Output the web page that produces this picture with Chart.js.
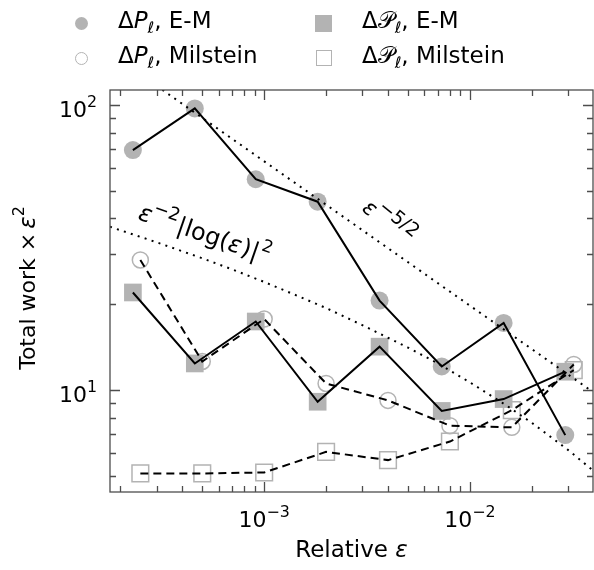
<!DOCTYPE html>
<html>
<head>
<meta charset="utf-8">
<script src="https://cdn.jsdelivr.net/npm/chart.js@4.4.1/dist/chart.umd.min.js"></script>
<style>
  html, body { margin: 0; padding: 0; background: #fff; overflow: hidden; }
  #wrap { position: relative; width: 594px; height: 570px; }
  #chart { position: absolute; left: 0; top: 0; }
  .leg { position: absolute; font-family: "DejaVu Sans", sans-serif; font-size: 23px; line-height: 23px; color: #000; white-space: nowrap; }
  .leg i { font-style: italic; }
  .leg sub { font-size: 16px; font-style: italic; vertical-align: -5px; line-height: 0; }
  .mk { position: absolute; box-sizing: border-box; }
</style>
</head>
<body>
<div id="wrap">
  <canvas id="chart" width="594" height="570"></canvas>
  <div class="mk" style="left:75px;top:17px;width:13px;height:13px;border-radius:50%;background:#b3b3b3"></div>
  <div class="mk" style="left:75px;top:52px;width:13px;height:13px;border-radius:50%;border:1.5px solid #b3b3b3"></div>
  <div class="mk" style="left:315px;top:15px;width:17px;height:17px;background:#b3b3b3"></div>
  <div class="mk" style="left:316px;top:50px;width:16px;height:16px;border:1.5px solid #b3b3b3"></div>
  <div class="leg" style="left:118px;top:9px">Δ<i>P</i><sub>ℓ</sub>, E-M</div>
  <div class="leg" style="left:118px;top:44px">Δ<i>P</i><sub>ℓ</sub>, Milstein</div>
  <div class="leg" style="left:362px;top:9px">Δ𝒫<sub>ℓ</sub>, E-M</div>
  <div class="leg" style="left:362px;top:44px">Δ𝒫<sub>ℓ</sub>, Milstein</div>
</div>
<script>
// relative accuracy at each level of the sweep
const epsEM = [2.3e-4, 4.6e-4, 9.1e-4, 1.82e-3, 3.64e-3, 7.3e-3, 1.46e-2, 2.91e-2];
const epsMilstein = [2.5e-4, 5e-4, 1e-3, 2e-3, 4e-3, 8e-3, 1.6e-2, 3.2e-2];

// total work x eps^2
const workP_EM = [69.5, 97.3, 54.9, 45.8, 20.6, 12.1, 17.2, 6.95];
const workP_Milstein = [28.6, 12.6, 17.75, 10.55, 9.2, 7.5, 7.4, 12.3];
const workPcal_EM = [22.0, 12.4, 17.4, 9.1, 14.2, 8.45, 9.3, 11.6];
const workPcal_Milstein = [5.1, 5.1, 5.14, 6.07, 5.68, 6.6, 8.5, 11.75];

// reference rates (dotted)
const rate52Eps = [3.2e-4, 0.0385];
const rate52Work = [113, 10];
const rateLogEps = [1.78e-4, 3e-4, 5e-4, 7e-4, 1e-3, 1.5e-3, 2e-3, 3e-3, 5e-3, 7e-3, 1e-2, 1.5e-2, 2e-2, 3e-2, 4e-2];
const rateLogWork = [37.4, 33.0, 29.0, 26.5, 23.95, 21.2, 19.4, 16.9, 14.1, 12.4, 10.65, 8.85, 7.68, 6.17, 5.2];

const xTicks = [1e-3, 1e-2];
const yTicks = [10, 100];
const xRange = [1.78e-4, 0.0397];
const yRange = [4.39, 112.9];

const GRAY = '#b3b3b3';
const FONT = '"DejaVu Sans", sans-serif';

function pts(xs, ys) {
  return xs.map((x, i) => ({ x: x, y: ys[i] }));
}

function lineSet(xs, ys, dash, width) {
  return {
    data: pts(xs, ys), showLine: true, pointRadius: 0, borderColor: '#000',
    borderWidth: width || 2, borderDash: dash || [], tension: 0, order: 1
  };
}

function markSet(xs, ys, style, r, filled) {
  return {
    data: pts(xs, ys), showLine: false, pointStyle: style, pointRadius: r,
    backgroundColor: filled ? GRAY : 'rgba(0,0,0,0)', borderColor: GRAY,
    borderWidth: filled ? 0 : 1.5, order: filled ? 3 : 2
  };
}

function drawRich(ctx, parts, x, y, align, angle) {
  ctx.save();
  ctx.translate(x, y);
  if (angle) ctx.rotate(angle * Math.PI / 180);
  let w = 0;
  parts.forEach(p => {
    ctx.font = (p.it ? 'italic ' : '') + p.size + 'px ' + FONT;
    p.w = ctx.measureText(p.t).width + (p.gap || 0);
    w += p.w;
  });
  let cx = align === 'center' ? -w / 2 : align === 'right' ? -w : 0;
  ctx.textAlign = 'left';
  ctx.textBaseline = 'alphabetic';
  ctx.fillStyle = '#000';
  parts.forEach(p => {
    ctx.font = (p.it ? 'italic ' : '') + p.size + 'px ' + FONT;
    ctx.fillText(p.t, cx, p.dy || 0);
    cx += p.w;
  });
  ctx.restore();
}

function powLabel(v, size) {
  const e = Math.round(Math.log10(v));
  return [{ t: '10', size: size }, { t: String(e).replace('-', '\u2212'), size: size * 0.72, dy: -size * 0.45 }];
}

const decor = {
  id: 'decor',
  afterDraw(chart) {
    const { ctx, chartArea: a, scales: { x, y } } = chart;
    ctx.save();
    ctx.strokeStyle = '#4d4d4d';
    ctx.lineWidth = 1.3;
    ctx.strokeRect(a.left, a.top, a.right - a.left, a.bottom - a.top);
    ctx.beginPath();
    for (let k = -4; k <= 2; k++) {
      for (let m = 1; m < 10; m++) {
        const v = m * Math.pow(10, k);
        const len = m === 1 ? 10 : 6;
        if (v >= x.min && v <= x.max) {
          const px = Math.round(x.getPixelForValue(v)) + 0.5;
          ctx.moveTo(px, a.bottom); ctx.lineTo(px, a.bottom - len);
          ctx.moveTo(px, a.top); ctx.lineTo(px, a.top + len);
        }
        if (v >= y.min && v <= y.max) {
          const py = Math.round(y.getPixelForValue(v)) + 0.5;
          ctx.moveTo(a.left, py); ctx.lineTo(a.left + len, py);
          ctx.moveTo(a.right, py); ctx.lineTo(a.right - len, py);
        }
      }
    }
    ctx.stroke();
    ctx.restore();

    xTicks.forEach(v => drawRich(ctx, powLabel(v, 22), x.getPixelForValue(v), a.bottom + 35, 'center'));
    yTicks.forEach(v => drawRich(ctx, powLabel(v, 22), a.left - 13, y.getPixelForValue(v) + 12, 'right'));

    drawRich(ctx, [{ t: 'Relative ', size: 23 }, { t: 'ε', size: 23, it: true }],
      (a.left + a.right) / 2, a.bottom + 65, 'center');
    drawRich(ctx, [
      { t: 'Total work ', size: 22 }, { t: '\u00d7', size: 22, gap: 4 },
      { t: 'ε', size: 23, it: true }, { t: '2', size: 16, dy: -11 }
    ], 35, (a.top + a.bottom) / 2 - 3, 'center', -90);

    drawRich(ctx, [
      { t: 'ε', size: 24, it: true }, { t: '\u22122', size: 18, dy: -11, gap: 1 },
      { t: '|log(', size: 24 }, { t: 'ε', size: 24, it: true, gap: 1 }, { t: ')|', size: 24, gap: 1 },
      { t: '2', size: 17, dy: -11 }
    ], 137, 219, 'left', 19);
    drawRich(ctx, [{ t: 'ε', size: 22, it: true }, { t: '\u22125/2', size: 19, dy: -11 }], 361, 210, 'left', 39);
  }
};

new Chart(document.getElementById('chart'), {
  type: 'scatter',
  data: {
    datasets: [
      lineSet(rate52Eps, rate52Work, [2, 5.3]),
      lineSet(rateLogEps, rateLogWork, [2, 5.3]),
      lineSet(epsEM, workP_EM),
      lineSet(epsEM, workPcal_EM),
      lineSet(epsMilstein, workP_Milstein, [8, 5]),
      lineSet(epsMilstein, workPcal_Milstein, [8, 5]),
      markSet(epsMilstein, workP_Milstein, 'circle', 8, false),
      markSet(epsMilstein, workPcal_Milstein, 'rect', 11.8, false),
      markSet(epsEM, workP_EM, 'circle', 9, true),
      markSet(epsEM, workPcal_EM, 'rect', 12.5, true)
    ]
  },
  options: {
    responsive: false,
    animation: false,
    devicePixelRatio: 1,
    layout: { autoPadding: false, padding: { left: 110, right: 1, top: 90, bottom: 78 } },
    plugins: { legend: { display: false }, tooltip: { enabled: false } },
    scales: {
      x: { type: 'logarithmic', min: xRange[0], max: xRange[1], display: false },
      y: { type: 'logarithmic', min: yRange[0], max: yRange[1], display: false }
    }
  },
  plugins: [decor]
});
</script>
</body>
</html>
